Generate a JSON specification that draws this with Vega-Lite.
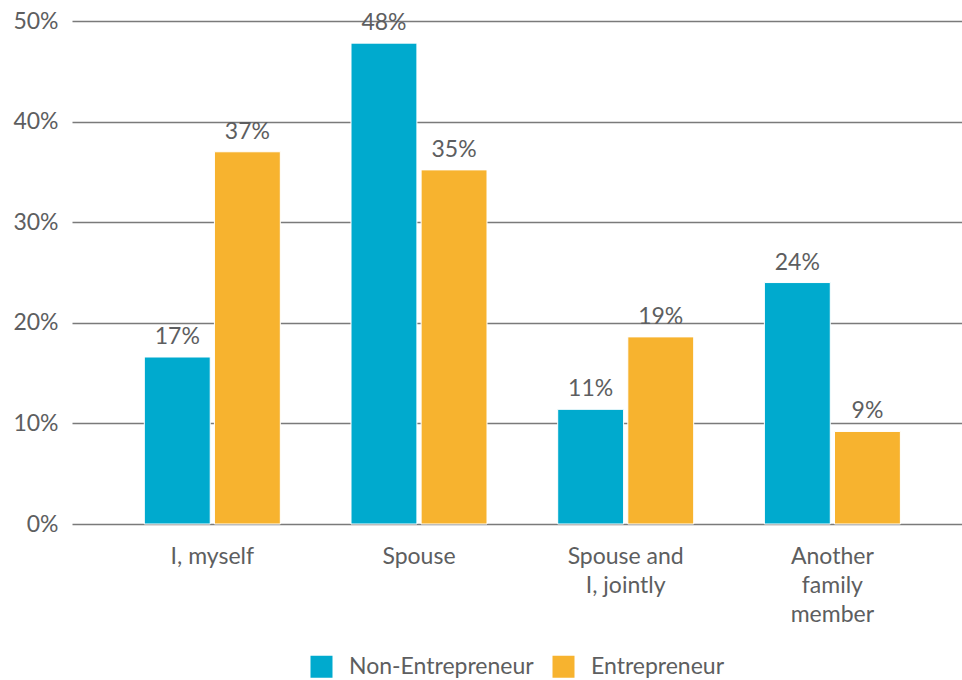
{
  "$schema": "https://vega.github.io/schema/vega-lite/v6.json",
  "width": 890,
  "height": 503,
  "autosize": {"type": "none"},
  "padding": {"left": 72, "top": 21, "right": 0, "bottom": 156},
  "background": "white",
  "config": {
    "font": "Lato",
    "view": {"stroke": null}
  },
  "data": {
    "values": [
      {"category": "I, myself", "group": "Non-Entrepreneur", "value": 0.166},
      {"category": "I, myself", "group": "Entrepreneur", "value": 0.370},
      {"category": "Spouse", "group": "Non-Entrepreneur", "value": 0.478},
      {"category": "Spouse", "group": "Entrepreneur", "value": 0.352},
      {"category": "Spouse and I, jointly", "group": "Non-Entrepreneur", "value": 0.114},
      {"category": "Spouse and I, jointly", "group": "Entrepreneur", "value": 0.186},
      {"category": "Another family member", "group": "Non-Entrepreneur", "value": 0.240},
      {"category": "Another family member", "group": "Entrepreneur", "value": 0.092}
    ]
  },
  "encoding": {
    "x": {
      "field": "category",
      "type": "nominal",
      "sort": null,
      "scale": {"paddingInner": 0.342, "paddingOuter": 0.324, "align": 0.54},
      "axis": {
        "title": null,
        "labelAngle": 0,
        "ticks": false,
        "domain": false,
        "labelFontSize": 23,
        "labelColor": "#5d5e60",
        "labelPadding": 21,
        "labelLineHeight": 29,
        "labelExpr": "datum.value == 'Spouse and I, jointly' ? ['Spouse and', 'I, jointly'] : datum.value == 'Another family member' ? ['Another', 'family', 'member'] : datum.label"
      }
    },
    "xOffset": {
      "field": "group",
      "type": "nominal",
      "sort": ["Non-Entrepreneur", "Entrepreneur"],
      "scale": {"paddingInner": 0.06}
    },
    "y": {
      "field": "value",
      "type": "quantitative",
      "scale": {"domain": [0, 0.5]},
      "axis": {
        "title": null,
        "format": ".0%",
        "values": [0, 0.1, 0.2, 0.3, 0.4, 0.5],
        "labelOverlap": false,
        "ticks": false,
        "domain": false,
        "grid": true,
        "gridColor": "#7a7a7a",
        "gridWidth": 1.5,
        "labelFontSize": 23,
        "labelColor": "#5d5e60",
        "labelPadding": 14
      }
    }
  },
  "layer": [
    {
      "mark": {"type": "bar", "stroke": "white", "strokeWidth": 1},
      "encoding": {
        "color": {
          "field": "group",
          "type": "nominal",
          "sort": ["Non-Entrepreneur", "Entrepreneur"],
          "scale": {"domain": ["Non-Entrepreneur", "Entrepreneur"], "range": ["#00AACE", "#F7B32F"]},
          "legend": {
            "title": null,
            "orient": "none",
            "legendX": 238,
            "legendY": 634,
            "direction": "horizontal",
            "symbolType": "square",
            "symbolSize": 484,
            "symbolStrokeWidth": 0,
            "labelFontSize": 23,
            "labelLimit": 400,
            "labelColor": "#5d5e60",
            "labelOffset": 16,
            "columnPadding": 18
          }
        }
      }
    },
    {
      "mark": {"type": "text", "baseline": "middle", "dy": -20, "fontSize": 23, "color": "#5d5e60"},
      "encoding": {
        "text": {"field": "value", "type": "quantitative", "format": ".0%"}
      }
    }
  ]
}
